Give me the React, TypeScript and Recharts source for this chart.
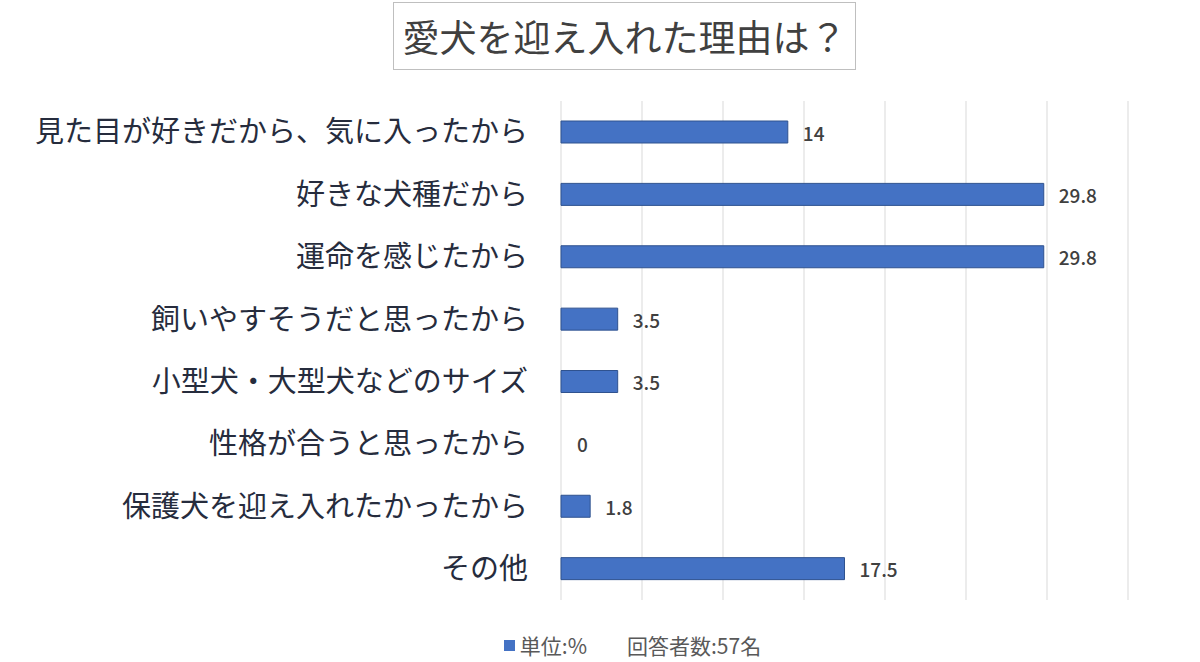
import { BarChart, Bar, XAxis, YAxis, CartesianGrid, LabelList, Rectangle } from "recharts"

const reasons = [
  "見た目が好きだから、気に入ったから",
  "好きな犬種だから",
  "運命を感じたから",
  "飼いやすそうだと思ったから",
  "小型犬・大型犬などのサイズ",
  "性格が合うと思ったから",
  "保護犬を迎え入れたかったから",
  "その他",
]

const percents = [14, 29.8, 29.8, 3.5, 3.5, 0, 1.8, 17.5]

const xTicks = [0, 5, 10, 15, 20, 25, 30, 35]

const title = "愛犬を迎え入れた理由は？"
const unitText = "単位:%"
const respondentText = "回答者数:57名"

const data = reasons.map((reason, i) => ({ reason, value: percents[i] }))

const FONT = "'Noto Sans CJK JP', 'Noto Sans', sans-serif"
const BAR_COLOR = "#4472C4"

// value label drawn by hand so that the 0 bar still gets its "0"
const ValueLabel = (props: any) => {
  const { x, y, width, height, value } = props
  return (
    <text
      x={Number(x) + Number(width) + 15}
      y={Number(y) + Number(height) / 2}
      dominantBaseline="central"
      fontSize={19}
      fontFamily={FONT}
      fontWeight={500}
      fill="#404040"
    >
      {value}
    </text>
  )
}

// the 0 bar keeps its 1px min size for the label but is not drawn
const BarShape = (props: any) => {
  if (props.payload && props.payload.value === 0) return <g />
  return <Rectangle {...props} />
}

export default function App() {
  return (
    <div style={{ position: "fixed", left: 0, top: 0, width: 1200, height: 662, background: "#fff" }}>
      <div
        style={{
          position: "absolute",
          left: 393,
          top: 2,
          width: 463,
          height: 68,
          border: "1px solid #bfbfbf",
          display: "flex",
          alignItems: "center",
          justifyContent: "center",
          fontFamily: FONT,
          fontSize: 37,
          color: "#404040",
          boxSizing: "border-box",
        }}
      >
        {title}
      </div>
      <BarChart
        width={1200}
        height={662}
        data={data}
        layout="vertical"
        margin={{ top: 101, right: 72, bottom: 62, left: 0 }}
        barCategoryGap={0}
      >
        <CartesianGrid horizontal={false} stroke="#d9d9d9" />
        <XAxis
          type="number"
          domain={[0, 35]}
          ticks={xTicks}
          tickFormatter={() => ""}
          axisLine={false}
          tickLine={false}
          height={0}
        />
        <YAxis
          type="category"
          dataKey="reason"
          width={561}
          axisLine={false}
          tickLine={false}
          tickSize={0}
          tickMargin={33}
          tick={{ fontSize: 29, fill: "#262c3d", fontFamily: FONT }}
          interval={0}
        />
        <Bar
          dataKey="value"
          fill={BAR_COLOR}
          stroke="#2f528f"
          strokeWidth={1}
          barSize={22}
          minPointSize={1}
          shape={BarShape}
          isAnimationActive={false}
        >
          <LabelList dataKey="value" content={ValueLabel} />
        </Bar>
      </BarChart>
      <div
        style={{
          position: "absolute",
          top: 633,
          left: 0,
          width: 1200,
          height: 24,
          lineHeight: "24px",
          display: "flex",
          justifyContent: "center",
          alignItems: "center",
          fontFamily: FONT,
          fontSize: 21,
          color: "#595959",
          paddingLeft: 65,
          boxSizing: "border-box",
        }}
      >
        <span style={{ width: 11, height: 11, background: BAR_COLOR, display: "inline-block", marginRight: 5 }} />
        <span>{unitText}</span>
        <span style={{ marginLeft: 40 }}>{respondentText}</span>
      </div>
    </div>
  )
}
